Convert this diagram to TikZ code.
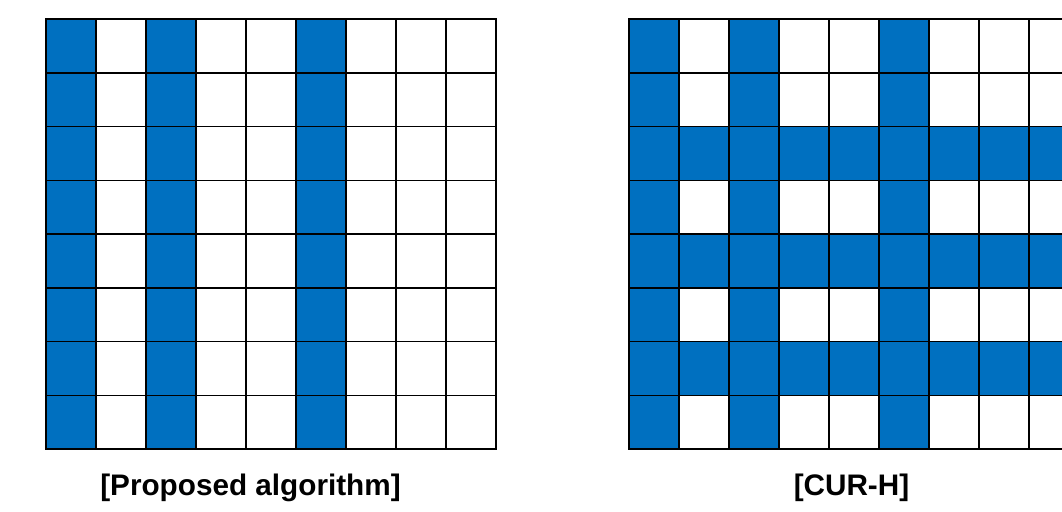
\documentclass[tikz,border=0pt]{standalone}
\usepackage{fontspec}
\setmainfont{Liberation Sans}
\definecolor{cellblue}{HTML}{0070C0}
\begin{document}
\begin{tikzpicture}[x=1pt,y=-1pt,
  gridline/.style={line width=1.5pt,black,line cap=rect},
  bluecell/.style={fill=cellblue},
  caption/.style={font=\fontsize{29.7}{32}\selectfont\bfseries,anchor=base,inner sep=0pt}]
\useasboundingbox (0,0) rectangle (1062,511);
\clip (0,0) rectangle (1062,511);
\def\cw{50}
\def\ch{53.75}
% Left grid
\foreach \c in {0,2,5}{
  \fill[bluecell] (46+\c*\cw,19) rectangle ++(\cw,8*\ch);
}
\foreach \i in {0,...,9}{
  \draw[gridline] (46+\i*\cw,19) -- (46+\i*\cw,449);
}
\foreach \j in {0,...,8}{
  \draw[gridline] (46,19+\j*\ch) -- (496,19+\j*\ch);
}
% Right grid
\foreach \c in {0,2,5}{
  \fill[bluecell] (629+\c*\cw,19) rectangle ++(\cw,8*\ch);
}
\foreach \r in {2,4,6}{
  \fill[bluecell] (629,19+\r*\ch) rectangle ++(9*\cw,\ch);
}
\foreach \i in {0,...,9}{
  \draw[gridline] (629+\i*\cw,19) -- (629+\i*\cw,449);
}
\foreach \j in {0,...,8}{
  \draw[gridline] (629,19+\j*\ch) -- (1079,19+\j*\ch);
}
\node[caption] (capL) at (250.5,495) {[Proposed algorithm]};
\node[caption] (capR) at (851.5,495) {[CUR-H]};
\end{tikzpicture}
\end{document}
